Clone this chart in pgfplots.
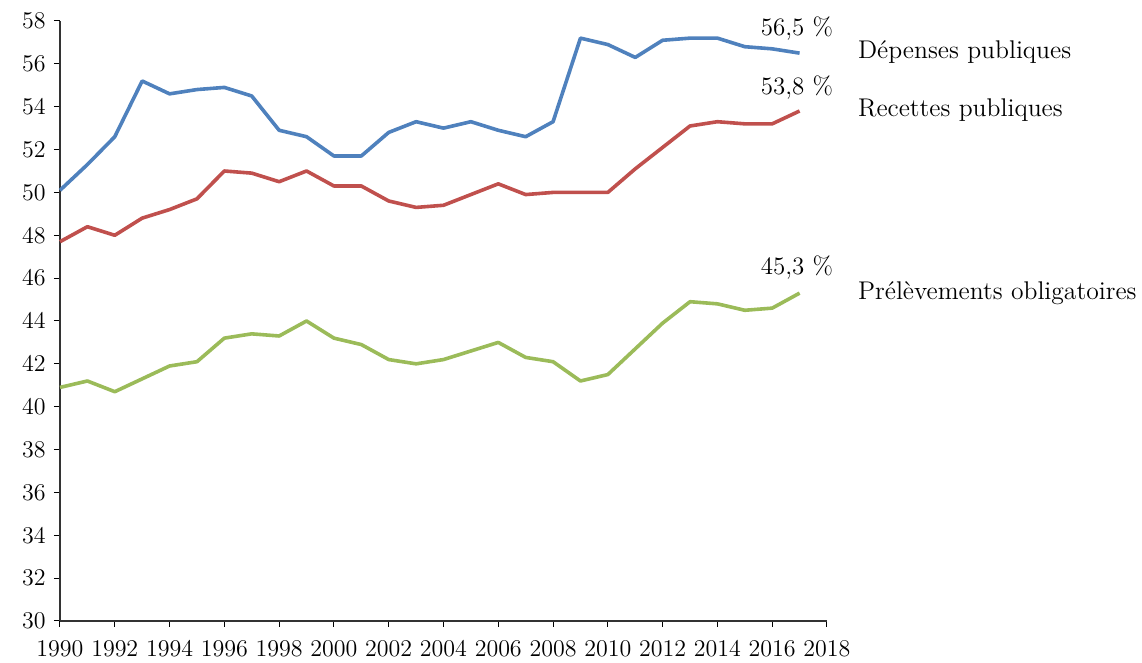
\documentclass[border=0pt,12pt]{standalone}
\usepackage{pgfplots}
\pgfplotsset{compat=1.18}
\definecolor{cblue}{HTML}{4F81BD}
\definecolor{cred}{HTML}{C0504D}
\definecolor{cgreen}{HTML}{9BBB59}
\begin{document}
\begin{tikzpicture}
\useasboundingbox (-30pt,-21pt) rectangle (541pt,310.5pt);
\begin{axis}[
  scale only axis,
  width=383.5pt, height=300pt,
  xmin=1990, xmax=2018, ymin=30, ymax=58,
  xtick={1990,1992,...,2018},
  ytick={30,32,...,58},
  x tick label style={/pgf/number format/1000 sep={}, yshift=-3pt},
  axis x line*=bottom, axis y line*=left,
  tick align=outside,
  major tick length=3pt,
  tick style={black, line width=0.5pt},
  axis line style={black!80, line width=0.6pt},
  ticklabel style={font=\fontsize{12}{14}\selectfont},
  clip=false,
  every axis plot/.style={line width=1.8pt, no markers, line join=round},
]
\addplot[cblue] coordinates {
(1990,50.1)(1991,51.3)(1992,52.6)(1993,55.2)(1994,54.6)(1995,54.8)(1996,54.9)(1997,54.5)
(1998,52.9)(1999,52.6)(2000,51.7)(2001,51.7)(2002,52.8)(2003,53.3)(2004,53.0)(2005,53.3)
(2006,52.9)(2007,52.6)(2008,53.3)(2009,57.2)(2010,56.9)(2011,56.3)(2012,57.1)(2013,57.2)
(2014,57.2)(2015,56.8)(2016,56.7)(2017,56.5)};
\addplot[cred] coordinates {
(1990,47.7)(1991,48.4)(1992,48.0)(1993,48.8)(1994,49.2)(1995,49.7)(1996,51.0)(1997,50.9)
(1998,50.5)(1999,51.0)(2000,50.3)(2001,50.3)(2002,49.6)(2003,49.3)(2004,49.4)(2005,49.9)
(2006,50.4)(2007,49.9)(2008,50.0)(2009,50.0)(2010,50.0)(2011,51.1)(2012,52.1)(2013,53.1)
(2014,53.3)(2015,53.2)(2016,53.2)(2017,53.8)};
\addplot[cgreen] coordinates {
(1990,40.9)(1991,41.2)(1992,40.7)(1993,41.3)(1994,41.9)(1995,42.1)(1996,43.2)(1997,43.4)
(1998,43.3)(1999,44.0)(2000,43.2)(2001,42.9)(2002,42.2)(2003,42.0)(2004,42.2)(2005,42.6)
(2006,43.0)(2007,42.3)(2008,42.1)(2009,41.2)(2010,41.5)(2011,42.7)(2012,43.9)(2013,44.9)
(2014,44.8)(2015,44.5)(2016,44.6)(2017,45.3)};
\node[font=\fontsize{12.5}{14}\selectfont] at (axis cs:2016.9,57.66) {56,5 \%};
\node[font=\fontsize{12.5}{14}\selectfont] at (axis cs:2016.9,54.9) {53,8 \%};
\node[font=\fontsize{12.5}{14}\selectfont] at (axis cs:2016.9,46.5) {45,3 \%};
\node[anchor=west, font=\fontsize{12.8}{14}\selectfont, inner sep=0pt] at (axis cs:2019.12,56.54) {Dépenses publiques};
\node[anchor=west, font=\fontsize{12.8}{14}\selectfont, inner sep=0pt] at (axis cs:2019.12,53.83) {Recettes publiques};
\node[anchor=west, font=\fontsize{12.8}{14}\selectfont, inner sep=0pt] at (axis cs:2019.12,45.3) {Prélèvements obligatoires};
\end{axis}
\end{tikzpicture}
\end{document}
